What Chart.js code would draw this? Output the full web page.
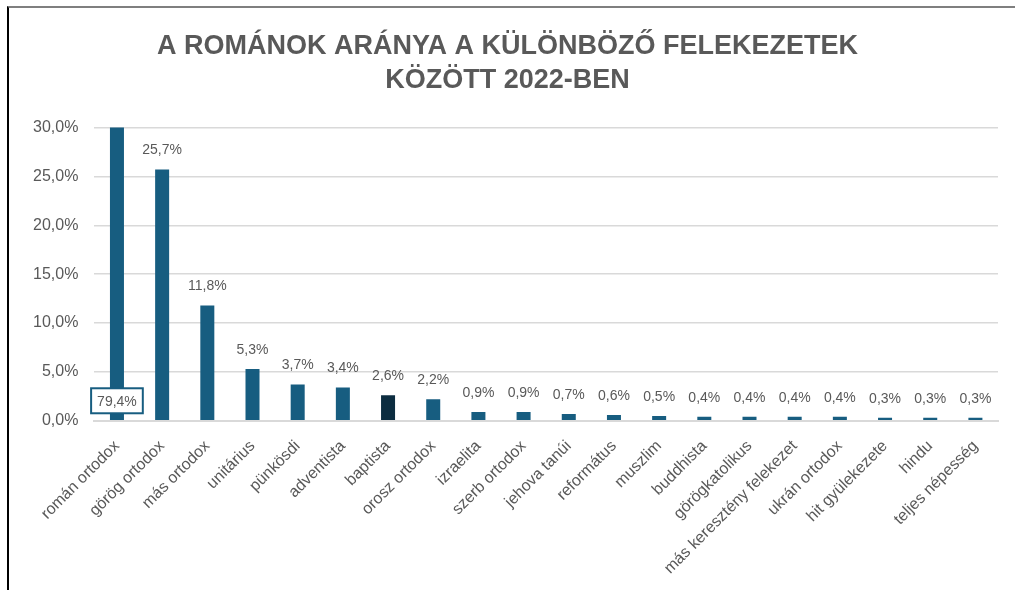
<!DOCTYPE html>
<html>
<head>
<meta charset="utf-8">
<script src="https://cdn.jsdelivr.net/npm/chart.js@4"></script>
<style>
  body { margin: 0; background: #fff; }
  #frame {
    position: absolute; left: 7px; top: 6px; width: 1008px; height: 584px;
    border-top: 2px solid #7f7f7f; border-left: 2px solid #000; box-sizing: border-box;
  }
  #wrap { position: absolute; left: 9px; top: 8px; width: 1006px; height: 582px; }
</style>
</head>
<body>
<div id="frame"></div>
<div id="wrap"><canvas id="chart"></canvas></div>
<script>
// adatok
const categories = ['román ortodox', 'görög ortodox', 'más ortodox', 'unitárius', 'pünkösdi',
  'adventista', 'baptista', 'orosz ortodox', 'izraelita', 'szerb ortodox', 'jehova tanúi',
  'református', 'muszlim', 'buddhista', 'görögkatolikus', 'más keresztény felekezet',
  'ukrán ortodox', 'hit gyülekezete', 'hindu', 'teljes népesség'];
const shares = [79.4, 25.7, 11.8, 5.3, 3.7, 3.4, 2.6, 2.2, 0.9, 0.9, 0.7, 0.6, 0.5, 0.4, 0.4, 0.4, 0.4, 0.3, 0.3, 0.3];
const yTicks = [0, 5, 10, 15, 20, 25, 30];

const barColor = '#175d80';
const darkColor = '#0c2d40';
const textColor = '#595959';

function pct(v) {
  return v.toFixed(1).replace('.', ',') + '%';
}

// értékcímkék a oszlopok fölé
const valueLabels = {
  id: 'valueLabels',
  afterDatasetsDraw(chart) {
    const ctx = chart.ctx;
    const meta = chart.getDatasetMeta(0);
    const yScale = chart.scales.y;
    ctx.save();
    ctx.font = '14px "Liberation Sans", Arial, sans-serif';
    ctx.textAlign = 'center';
    ctx.textBaseline = 'middle';
    meta.data.forEach(function(bar, i) {
      const v = shares[i];
      const txt = pct(v);
      if (v > yScale.max) {
        // levágott oszlop: keretes címke alul
        const w = ctx.measureText(txt).width + 12;
        const h = 25;
        const cy = yScale.getPixelForValue(0) - 20;
        ctx.fillStyle = '#fff';
        ctx.fillRect(bar.x - w / 2, cy - h / 2, w, h);
        ctx.strokeStyle = barColor;
        ctx.lineWidth = 2;
        ctx.strokeRect(bar.x - w / 2, cy - h / 2, w, h);
        ctx.fillStyle = textColor;
        ctx.fillText(txt, bar.x, cy + 1);
      } else {
        ctx.fillStyle = textColor;
        ctx.fillText(txt, bar.x, bar.y - 19);
      }
    });
    ctx.restore();
  }
};

new Chart(document.getElementById('chart'), {
  type: 'bar',
  data: {
    labels: categories,
    datasets: [{
      data: shares,
      backgroundColor: categories.map(function(c) { return c === 'baptista' ? darkColor : barColor; }),
      barPercentage: 0.62,
      categoryPercentage: 0.5
    }]
  },
  options: {
    responsive: true,
    maintainAspectRatio: false,
    animation: false,
    layout: { padding: { left: 8, right: 17, top: 4, bottom: 4 } },
    plugins: {
      legend: { display: false },
      tooltip: { enabled: false },
      title: {
        display: true,
        text: ['A ROMÁNOK ARÁNYA A KÜLÖNBÖZŐ FELEKEZETEK', 'KÖZÖTT 2022-BEN'],
        color: textColor,
        font: { family: '"Liberation Sans", Arial, sans-serif', size: 27, weight: 'bold', lineHeight: 1.25 },
        padding: { top: 18, bottom: 30 }
      }
    },
    scales: {
      y: {
        min: 0,
        max: 30,
        afterBuildTicks: function(axis) {
          axis.ticks = yTicks.map(function(v) { return { value: v }; });
        },
        ticks: {
          color: textColor,
          padding: 16,
          font: { family: '"Liberation Sans", Arial, sans-serif', size: 16 },
          callback: function(v) { return pct(v); }
        },
        grid: { color: '#d9d9d9', lineWidth: 1.5, drawTicks: false },
        border: { display: false }
      },
      x: {
        ticks: {
          color: textColor,
          minRotation: 45,
          maxRotation: 45,
          padding: 8,
          font: { family: '"Liberation Sans", Arial, sans-serif', size: 16 }
        },
        grid: { display: false },
        border: { color: '#d9d9d9', width: 2 }
      }
    }
  },
  plugins: [valueLabels]
});
</script>
</body>
</html>
